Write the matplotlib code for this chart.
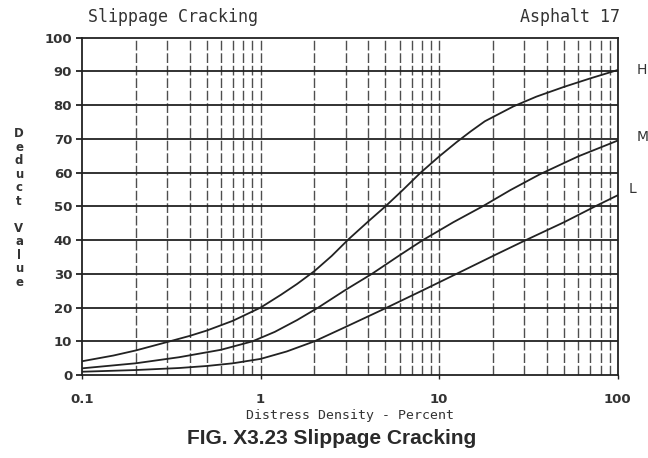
# =================
# IMPORTY
# =================
import matplotlib
matplotlib.use("Agg")
import matplotlib.pyplot as plt
from matplotlib.ticker import FixedLocator, NullFormatter


# =================
# DANE
# =================
h_x = [0.1, 0.15, 0.2, 0.3, 0.4, 0.5, 0.7, 1, 1.3, 1.6, 2, 2.5, 3.1, 4, 5, 6.3,
       7.8, 10, 12.5, 15, 18, 22, 26, 35, 50, 70, 100]
h_y = [4.1, 5.8, 7.3, 9.8, 11.6, 13.2, 16.1, 20, 23.8, 27, 30.8, 35.3, 40.2, 45.5, 50, 55,
       59.8, 64.8, 69, 72.2, 75.2, 77.6, 79.6, 82.5, 85.4, 87.9, 90.4]

m_x = [0.1, 0.2, 0.35, 0.6, 0.9, 1.2, 1.6, 2.1, 3, 4.2, 6, 8.1, 12, 17.5, 25, 36.6, 60, 100]
m_y = [2.0, 3.5, 5.3, 7.5, 10, 12.8, 16.3, 20, 25.3, 30, 35.5, 40, 45.3, 50, 54.8, 59.5, 64.8, 69.5]

l_x = [0.1, 0.2, 0.35, 0.5, 0.7, 1, 1.4, 2, 3, 5, 8, 12.5, 20, 30, 50, 76, 100]
l_y = [1.0, 1.5, 2.1, 2.7, 3.5, 4.8, 7.0, 10, 14.3, 19.8, 25, 30, 35.3, 39.8, 45.3, 50.2, 53.3]

x_ticks = [0.1, 1, 10, 100]
x_labels = ["0.1", "1", "10", "100"]
y_ticks = list(range(0, 101, 10))

INK = "#222222"
TXT = "#333333"
MONO = "DejaVu Sans Mono"


# =================
# WYKRES
# =================
fig = plt.figure(figsize=(6.48, 4.58), dpi=100)
ax = fig.add_axes([0.1265, 0.181, 0.827, 0.737])

ax.set_xscale("log")
ax.set_xlim(0.1, 100)
ax.set_ylim(0, 100)

# pionowe linie siatki (przerywane)
for dec in [0.1, 1, 10]:
    for k in range(1, 10):
        v = dec * k
        if 0.1 < v < 100:
            ax.axvline(v, color=INK, lw=1.0, ls=(0, (7, 2)), alpha=0.8, zorder=1)

# poziome linie siatki
for v in y_ticks[1:-1]:
    ax.axhline(v, color=INK, lw=1.3, zorder=2)

for xs, ys in [(h_x, h_y), (m_x, m_y), (l_x, l_y)]:
    ax.plot(xs, ys, color=INK, lw=1.3, zorder=3)

for s in ax.spines.values():
    s.set_color(INK)
    s.set_linewidth(1.3)

ax.xaxis.set_major_locator(FixedLocator(x_ticks))
ax.xaxis.set_minor_locator(FixedLocator([]))
ax.set_xticklabels(x_labels)
ax.xaxis.set_minor_formatter(NullFormatter())
ax.set_yticks(y_ticks)

ax.tick_params(axis="y", length=4, width=1.3, color=INK, labelsize=9.5,
               labelcolor=TXT, pad=3)
ax.tick_params(axis="x", length=3, width=1.0, color=INK, labelsize=9.5,
               labelcolor=TXT, pad=10)
for t in ax.get_xticklabels() + ax.get_yticklabels():
    t.set_fontweight("bold")

ax.set_xlabel("Distress Density - Percent", fontsize=9.5, color=TXT,
              family=MONO, labelpad=2)

# podpisy krzywych
ax.text(1.035, 90.5, "H", transform=ax.get_yaxis_transform(), fontsize=10,
        color=TXT, va="center", ha="left")
ax.text(1.035, 70.5, "M", transform=ax.get_yaxis_transform(), fontsize=10,
        color=TXT, va="center", ha="left")
ax.text(1.02, 55, "L", transform=ax.get_yaxis_transform(), fontsize=10,
        color=TXT, va="center", ha="left")

# tytuły
fig.text(88 / 648, 1 - 17 / 458, "Slippage Cracking", fontsize=12,
         family=MONO, color=TXT, va="center", ha="left")
fig.text(620 / 648, 1 - 17 / 458, "Asphalt 17", fontsize=12,
         family=MONO, color=TXT, va="center", ha="right")

fig.text(19 / 648, 1 - 208 / 458, "\n".join("Deduct Value"), fontsize=8.5,
         color=TXT, va="center", ha="center", linespacing=1.05,
         fontweight="bold")

fig.text(332 / 648, 1 - 438 / 458, "FIG. X3.23 Slippage Cracking",
         fontsize=15, fontweight="bold", color="#2a2a2a",
         family="Liberation Sans", va="center", ha="center")

fig.savefig("out.png", dpi=100, facecolor="white")
